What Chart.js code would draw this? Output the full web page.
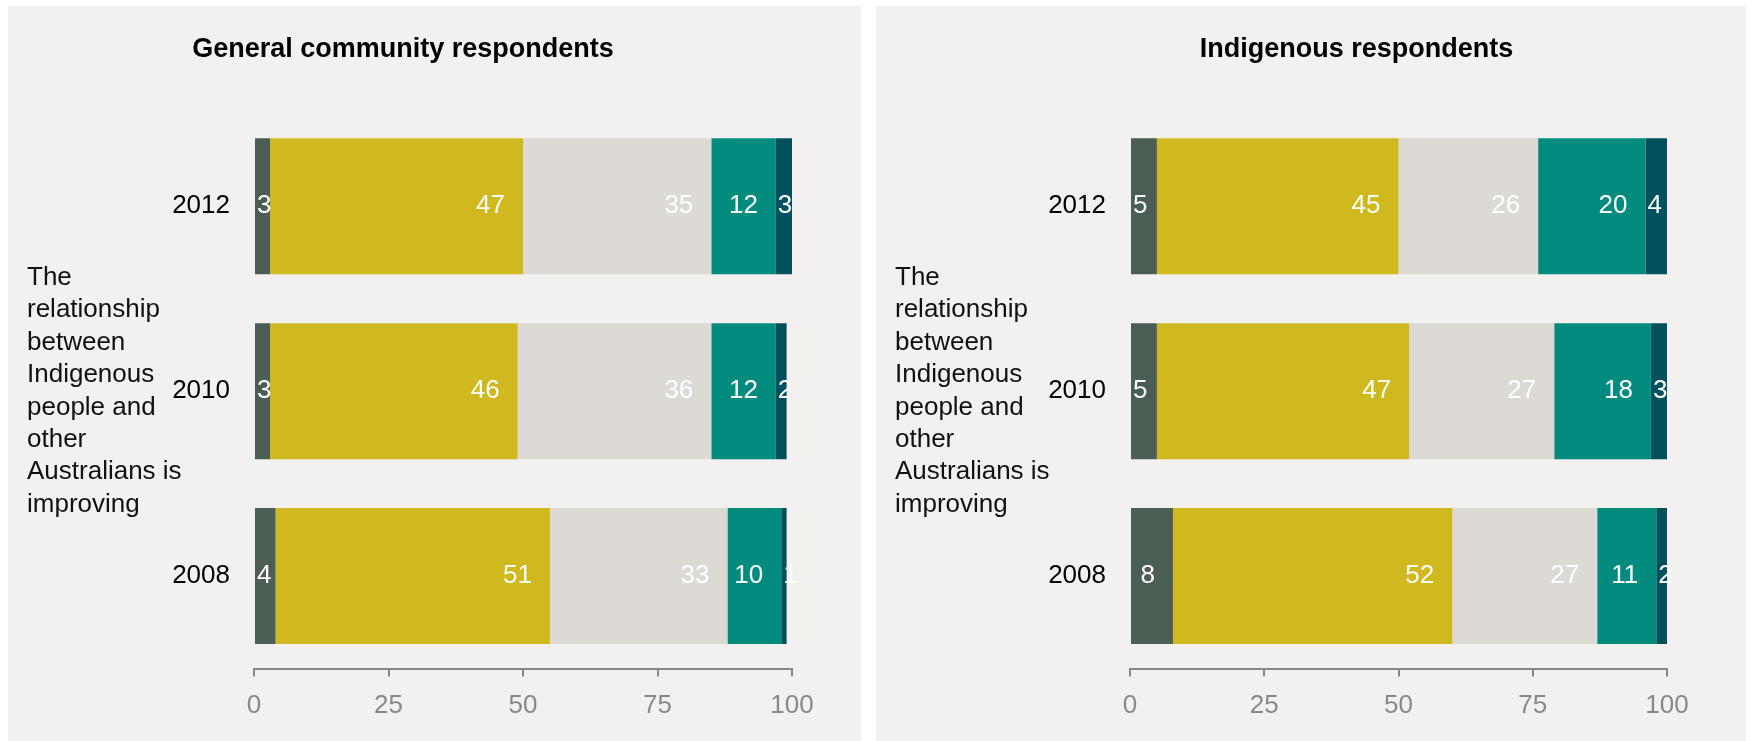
<!DOCTYPE html>
<html>
<head>
<meta charset="utf-8">
<script src="https://cdn.jsdelivr.net/npm/chart.js@4/dist/chart.umd.min.js"></script>
<style>
  body { margin: 0; background: #ffffff; width: 1753px; height: 741px; position: relative; overflow: hidden; }
  .panel { position: absolute; top: 6px; height: 735px; background: #f2f1ef; }
  #left { left: 8px; width: 853px; }
  #right { left: 876px; width: 870px; }
</style>
</head>
<body>
<div class="panel" id="left"><canvas id="chartGeneral" width="853" height="735"></canvas></div>
<div class="panel" id="right"><canvas id="chartIndigenous" width="870" height="735"></canvas></div>
<script>
const years = ["2012", "2010", "2008"];
const xTicks = [0, 25, 50, 75, 100];
const seriesNames = ["Strongly agree", "Agree", "Neither", "Disagree", "Strongly disagree"];
const seriesColors = ["#4b5e53", "#d0b91e", "#ddd9d5", "#008b7f", "#00505e"];

// General community respondents
const generalStronglyAgree = [3, 3, 4];
const generalAgree = [47, 46, 51];
const generalNeither = [35, 36, 33];
const generalDisagree = [12, 12, 10];
const generalStronglyDisagree = [3, 2, 1];

// Indigenous respondents
const indigStronglyAgree = [5, 5, 8];
const indigAgree = [45, 47, 52];
const indigNeither = [26, 27, 27];
const indigDisagree = [20, 18, 11];
const indigStronglyDisagree = [4, 3, 2];

const sideLabel = ["The", "relationship", "between", "Indigenous", "people and", "other", "Australians is", "improving"];

const FONT = '"Liberation Sans", Arial, sans-serif';
Chart.defaults.font.family = FONT;

// white value labels, right-aligned inside each segment
const segmentLabels = {
  id: "segmentLabels",
  afterDatasetsDraw(chart) {
    const ctx = chart.ctx;
    ctx.save();
    ctx.font = "26px " + FONT;
    ctx.fillStyle = "#ffffff";
    ctx.textBaseline = "middle";
    ctx.textAlign = "left";
    chart.data.datasets.forEach((ds, i) => {
      chart.getDatasetMeta(i).data.forEach((bar, j) => {
        const text = String(ds.data[j]);
        const w = ctx.measureText(text).width;
        const x = Math.max(bar.base + 2, bar.x - 18 - w);
        ctx.fillText(text, x, bar.y);
      });
    });
    ctx.restore();
  }
};

// horizontal, wrapped axis label on the left
const sideTitle = {
  id: "sideTitle",
  afterDraw(chart, args, opts) {
    const ctx = chart.ctx;
    const lines = opts.lines || [];
    const lh = 32.4;
    const mid = (chart.chartArea.top + chart.chartArea.bottom) / 2;
    let y = mid - (lines.length - 1) * lh / 2;
    ctx.save();
    ctx.font = "26px " + FONT;
    ctx.fillStyle = "#111111";
    ctx.textBaseline = "middle";
    ctx.textAlign = "left";
    lines.forEach(line => {
      ctx.fillText(line, opts.x, y);
      y += lh;
    });
    ctx.restore();
  }
};

function makeChart(id, title, series, pad, yWidth, labelX) {
  const datasets = series.map((data, i) => ({
    label: seriesNames[i],
    data: data,
    backgroundColor: seriesColors[i],
    borderWidth: 0,
    categoryPercentage: 1,
    barPercentage: 0.7355
  }));

  return new Chart(document.getElementById(id), {
    type: "bar",
    data: { labels: years, datasets: datasets },
    plugins: [segmentLabels, sideTitle],
    options: {
      indexAxis: "y",
      responsive: false,
      animation: false,
      devicePixelRatio: 1,
      layout: { padding: { left: pad.left, right: pad.right, top: 0, bottom: 0 } },
      plugins: {
        legend: { display: false },
        tooltip: { enabled: false },
        title: {
          display: true,
          text: title,
          color: "#000000",
          font: { size: 27, weight: "bold", family: FONT },
          padding: { top: 27.5, bottom: 47.9 }
        },
        sideTitle: { lines: sideLabel, x: labelX }
      },
      scales: {
        x: {
          stacked: true,
          min: 0,
          max: 100,
          afterBuildTicks: (scale) => { scale.ticks = xTicks.map(v => ({ value: v })); },
          afterFit: (scale) => { scale.height = 72.5; },
          border: { display: true, color: "#888888", width: 2 },
          grid: { display: true, drawOnChartArea: false, drawTicks: true, tickLength: 8, color: "#888888", lineWidth: 2 },
          ticks: { color: "#888888", font: { size: 26 }, padding: 14, maxRotation: 0 }
        },
        y: {
          stacked: true,
          afterFit: (scale) => { scale.width = yWidth; },
          border: { display: false },
          grid: { display: false, drawTicks: false },
          ticks: { color: "#000000", font: { size: 26 }, padding: 24 }
        }
      }
    }
  });
}

makeChart("chartGeneral", "General community respondents",
  [generalStronglyAgree, generalAgree, generalNeither, generalDisagree, generalStronglyDisagree],
  { left: 6, right: 69 }, 240, 19);

makeChart("chartIndigenous", "Indigenous respondents",
  [indigStronglyAgree, indigAgree, indigNeither, indigDisagree, indigStronglyDisagree],
  { left: 170, right: 79 }, 84, 19);
</script>
</body>
</html>
